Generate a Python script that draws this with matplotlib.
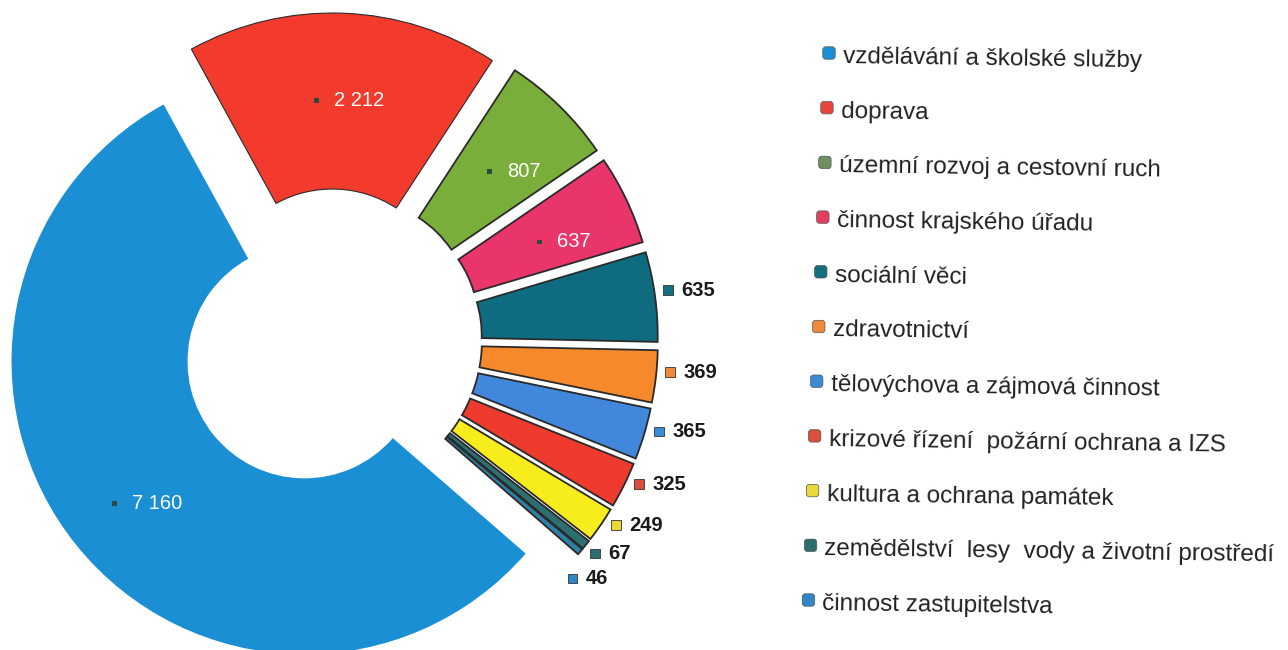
import matplotlib
matplotlib.use('Agg')
import matplotlib.pyplot as plt
import numpy as np
from matplotlib.offsetbox import AnnotationBbox, HPacker, TextArea, DrawingArea
from matplotlib.patches import Rectangle, FancyBboxPatch

plt.rcParams['font.family'] = ['Liberation Sans', 'DejaVu Sans']

# ---------------- data ----------------
categories = [
    "vzdělávání a školské služby",
    "doprava",
    "územní rozvoj a cestovní ruch",
    "činnost krajského úřadu",
    "sociální věci",
    "zdravotnictví",
    "tělovýchova a zájmová činnost",
    "krizové řízení  požární ochrana a IZS",
    "kultura a ochrana památek",
    "zemědělství  lesy  vody a životní prostředí",
    "činnost zastupitelstva",
]
values = [7160, 2212, 807, 637, 635, 369, 365, 325, 249, 67, 46]
value_labels = [f"{v:,}".replace(",", " ") for v in values]

slice_colors = ['#1a8fd4', '#f23a2d', '#7aae3a', '#e9356a', '#0f6c80', '#f5892b',
                '#4187dc', '#ee3b2e', '#f7ec1c', '#2c7072', '#2f7fa6']
legend_colors = ['#1a8fd4', '#e8463c', '#6f8f63', '#e0405e', '#12707f', '#f08a3a',
                 '#3a8ad6', '#d9503f', '#e8d83a', '#2f6d6d', '#2f86c8']

# ---------------- layout constants ----------------
W, H = 1288, 650
R = 293
HOLE = 117
EXPL = 34
CX, CY = 331, H - 340
START = -41
N_INSIDE = 4
INSIDE_R = 0.73
INSIDE_SHIFT = (6.5, -6)     # points
LABEL_ROT = 1.0
MIN_SEP = 6.2

fig = plt.figure(figsize=(W / 100, H / 100), dpi=100)
ax = fig.add_axes([0, 0, 1, 1])

wedges, _ = ax.pie(values, colors=slice_colors, radius=R, center=(CX, CY),
                   startangle=START, counterclock=False,
                   explode=[EXPL] * len(values),
                   wedgeprops=dict(width=R - HOLE, edgecolor='#2a2a2a', linewidth=1.3))
wedges[0].set_edgecolor('none')
wedges[1].set_linewidth(0.8)

ax.set_xlim(0, W)
ax.set_ylim(0, H)
ax.set_aspect('equal')
ax.axis('off')


def unit(deg):
    return np.cos(np.radians(deg)), np.sin(np.radians(deg))


prev = None
for i, w in enumerate(wedges):
    mid = 0.5 * (w.theta1 + w.theta2)
    wx, wy = w.center
    if i < N_INSIDE:
        ux, uy = unit(mid)
        xy = (wx + INSIDE_R * R * ux, wy + INSIDE_R * R * uy)
        da = DrawingArea(3.5, 3.5, 0, 0)
        da.add_artist(Rectangle((0, 0), 3.5, 3.5, fc='#2d4a3c', ec='none'))
        ta = TextArea(value_labels[i], textprops=dict(color='white', fontsize=14.5))
        pack = HPacker(children=[da, ta], align='center', pad=0, sep=11)
        ab = AnnotationBbox(pack, xy, xycoords='data', xybox=INSIDE_SHIFT,
                            boxcoords='offset points', frameon=False,
                            box_alignment=(0.5, 0.5), pad=0)
        ax.add_artist(ab)
    else:
        ang = mid + LABEL_ROT
        if prev is not None:
            ang = min(ang, prev - MIN_SEP)
        prev = ang
        ux, uy = unit(ang)
        xy = (wx + (R + 9) * ux, wy + (R + 9) * uy)
        da = DrawingArea(7, 7, 0, 0)
        da.add_artist(Rectangle((0, 0), 7, 7, fc=legend_colors[i], ec='#333333', lw=0.6))
        ta = TextArea(value_labels[i], textprops=dict(color='#1a1a1a', fontsize=14.5,
                                                      fontweight='bold'))
        pack = HPacker(children=[da, ta], align='center', pad=0, sep=6)
        ab = AnnotationBbox(pack, xy, xycoords='data', frameon=False,
                            box_alignment=(0, 0.5), pad=0)
        ax.add_artist(ab)

# ---------------- legend ----------------
for i, (cat, col) in enumerate(zip(categories, legend_colors)):
    yc = H - (57 + 54.7 * i)
    mx = 829 - 2.05 * i
    ax.add_patch(FancyBboxPatch((mx - 5, yc + 4 - 5), 10, 10,
                                boxstyle='round,pad=1.2,rounding_size=3',
                                fc=col, ec='#555555', lw=0.5))
    ax.text(mx + 14, yc - 6, cat, fontsize=17.5, ha='left', va='baseline',
            color='#222222', rotation=-0.8, rotation_mode='anchor')

fig.savefig('out.png', dpi=100, facecolor='white')
